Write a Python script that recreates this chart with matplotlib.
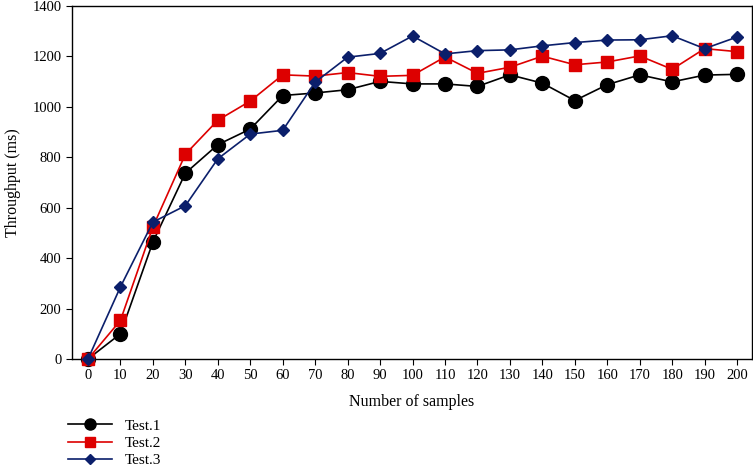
import matplotlib
matplotlib.use("Agg")
import matplotlib.pyplot as plt

samples = [0, 10, 20, 30, 40, 50, 60, 70, 80, 90, 100, 110, 120, 130, 140, 150, 160, 170, 180, 190, 200]
test1 = [0, 100, 464, 737, 850, 912, 1045, 1055, 1068, 1101, 1091, 1091, 1081, 1127, 1094, 1025, 1088, 1127, 1099, 1126, 1129]
test2 = [0, 153, 524, 812, 947, 1023, 1127, 1122, 1136, 1121, 1125, 1198, 1133, 1157, 1201, 1167, 1178, 1202, 1149, 1231, 1219]
test3 = [0, 286, 543, 608, 794, 892, 907, 1098, 1197, 1212, 1281, 1210, 1223, 1226, 1242, 1255, 1265, 1266, 1282, 1231, 1277]
yticks = [0, 200, 400, 600, 800, 1000, 1200, 1400]

plt.rcParams['font.family'] = ['Liberation Serif', 'DejaVu Serif']

fig = plt.figure(figsize=(7.53, 4.74), dpi=100)
ax = fig.add_axes([72/753, 1-359/474, 680/753, 353/474])

l1, = ax.plot(samples, test1, color='black', marker='o', markersize=10, lw=1.2, clip_on=False, zorder=3)
l2, = ax.plot(samples, test2, color='#DD0000', marker='s', markersize=9, lw=1.2, clip_on=False, zorder=4)
l3, = ax.plot(samples, test3, color='#0B1F6B', marker='D', markersize=6.5, lw=1.2, clip_on=False, zorder=5)

ax.set_xlim(-4.93, 204.6)
ax.set_ylim(0, 1400)
ax.set_xticks(samples)
ax.set_yticks(yticks)
ax.tick_params(direction='out', length=4, labelsize=10.5, colors='black')
for s in ax.spines.values():
    s.set_linewidth(1.0)
ax.set_xlabel('Number of samples', fontsize=11.5, labelpad=8)
ax.set_ylabel('Throughput (ms)', fontsize=11.5, labelpad=8)

fig.legend([l1, l2, l3], ['Test.1', 'Test.2', 'Test.3'], loc='upper left',
           bbox_to_anchor=(0.09, 1-419/474), frameon=False, fontsize=11,
           handlelength=2.9, labelspacing=0.24, borderaxespad=0, borderpad=0,
           markerscale=0.8)

fig.savefig('out.png', dpi=100)
